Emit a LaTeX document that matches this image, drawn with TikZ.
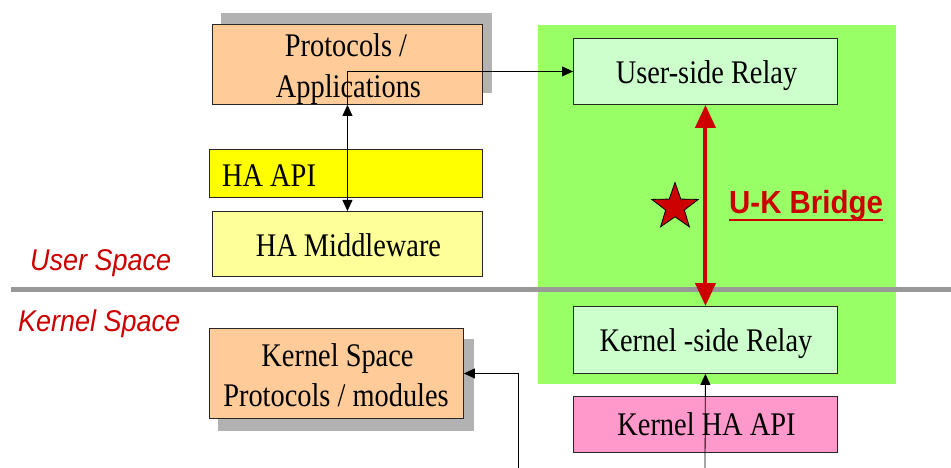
\documentclass[tikz,border=0pt]{standalone}
\usepackage{fontspec}
\setmainfont{Liberation Serif}
\newfontfamily\boxserif[FakeStretch=0.86]{Liberation Serif}
\newfontfamily\spacesans[FakeStretch=0.9]{Liberation Sans}
\newfontfamily\bridgesans[FakeStretch=0.92]{Liberation Sans}
\usetikzlibrary{arrows.meta,shapes.geometric}

\definecolor{zonegreen}{HTML}{99FF66}
\definecolor{relaygreen}{HTML}{CCFFCC}
\definecolor{protoorange}{HTML}{FFCC99}
\definecolor{apiyellow}{HTML}{FFFF00}
\definecolor{midyellow}{HTML}{FFFF99}
\definecolor{kapipink}{HTML}{FF99CC}
\definecolor{shadowgray}{HTML}{B2B2B2}
\definecolor{splitgray}{HTML}{999999}
\definecolor{bridgered}{HTML}{CC0000}

\begin{document}
\begin{tikzpicture}[x=1pt,y=-1pt,
  box/.style={draw=black!85, line width=0.9pt, anchor=north west, inner sep=0pt},
  boxshadow/.style={fill=shadowgray, draw=none, anchor=north west, inner sep=0pt},
  txt/.style={anchor=base, inner sep=0pt, font=\boxserif\fontsize{33}{39}\selectfont},
  spacelbl/.style={anchor=base west, inner sep=0pt, text=bridgered,
    font=\spacesans\itshape\fontsize{30}{36}\selectfont},
  arr/.style={line width=0.8pt, -{Triangle[length=11pt,width=10pt]}},
  dblarr/.style={line width=0.8pt, {Triangle[length=11pt,width=10pt]}-{Triangle[length=11pt,width=10pt]}},
  bridgearr/.style={draw=bridgered, line width=4pt,
    {Triangle[length=23pt,width=20pt]}-{Triangle[length=23pt,width=20pt]}}]
\useasboundingbox (0,0) rectangle (951,468);

% drop shadows
\node[boxshadow, minimum width=271pt, minimum height=80pt] (protoshadow) at (221,13) {};
\node[boxshadow, minimum width=256pt, minimum height=92pt] (kprotoshadow) at (218,339) {};

% user-space stack
\node[box, fill=protoorange, minimum width=270pt, minimum height=80pt] (proto) at (212,24) {};
\node[txt] (proto-l1) at (346,57) {Protocols /};
\node[txt] (proto-l2) at (348.5,98) {Applications};

\node[box, fill=apiyellow, minimum width=273pt, minimum height=48pt] (haapi) at (209,149) {};
\node[txt, anchor=base west] (haapi-l) at (222,186) {HA API};

\node[box, fill=midyellow, minimum width=270pt, minimum height=65pt] (mid) at (212,211) {};
\node[txt] (mid-l) at (348.5,256) {HA Middleware};

% relay zone
\node[fill=zonegreen, draw=none, anchor=north west, inner sep=0pt,
      minimum width=358pt, minimum height=359pt] (zone) at (538,25) {};

\node[box, fill=relaygreen, minimum width=264pt, minimum height=66pt] (urelay) at (573,38) {};
\node[txt] (urelay-l) at (706.5,84) {User-side Relay};

\node[box, fill=relaygreen, minimum width=264pt, minimum height=67pt] (krelay) at (573,306) {};
\node[txt] (krelay-l) at (706,351) {Kernel -side Relay};

\node[box, fill=kapipink, minimum width=264pt, minimum height=56pt] (kapi) at (573,396) {};
\node[txt] (kapi-l) at (706.5,435) {Kernel HA API};

% kernel protocols
\node[box, fill=protoorange, minimum width=254pt, minimum height=90pt] (kproto) at (209,328) {};
\node[txt] (kproto-l1) at (337.5,366) {Kernel Space};
\node[txt] (kproto-l2) at (336,406) {Protocols / modules};

% user / kernel boundary
\coordinate (splitL) at (11,289);
\coordinate (splitR) at (951,289);
\draw[splitgray, line width=5pt] (splitL) -- (splitR);

\node[spacelbl] (userspace) at (30,270) {User Space};
\node[spacelbl] (kernelspace) at (18,331) {Kernel Space};

% connectors
\draw[dblarr] (proto.south) -- (mid.north);
\draw[arr] (proto.south) |- (urelay.west);

\coordinate (kmodIn) at (518,468);
\draw[arr] (kmodIn) |- (kproto.east);

\coordinate (krelayIn) at (705,468);
\draw[arr] (krelayIn) -- (krelay.south);

\draw[bridgearr] (urelay.south) -- (krelay.north);

% bridge marker and label
\node[star, star points=5, star point ratio=2.5, minimum size=49pt, inner sep=0pt,
      fill=bridgered, draw=black, line width=0.8pt] (bridgestar) at (675,207) {};
\node[anchor=base west, inner sep=0pt, text=bridgered,
      font=\bridgesans\bfseries\fontsize{32}{38}\selectfont] (bridge) at (729,214) {U-K Bridge};
\draw[bridgered, line width=2pt] ([yshift=-6pt]bridge.base west) -- ([yshift=-6pt]bridge.base east);
\end{tikzpicture}
\end{document}
